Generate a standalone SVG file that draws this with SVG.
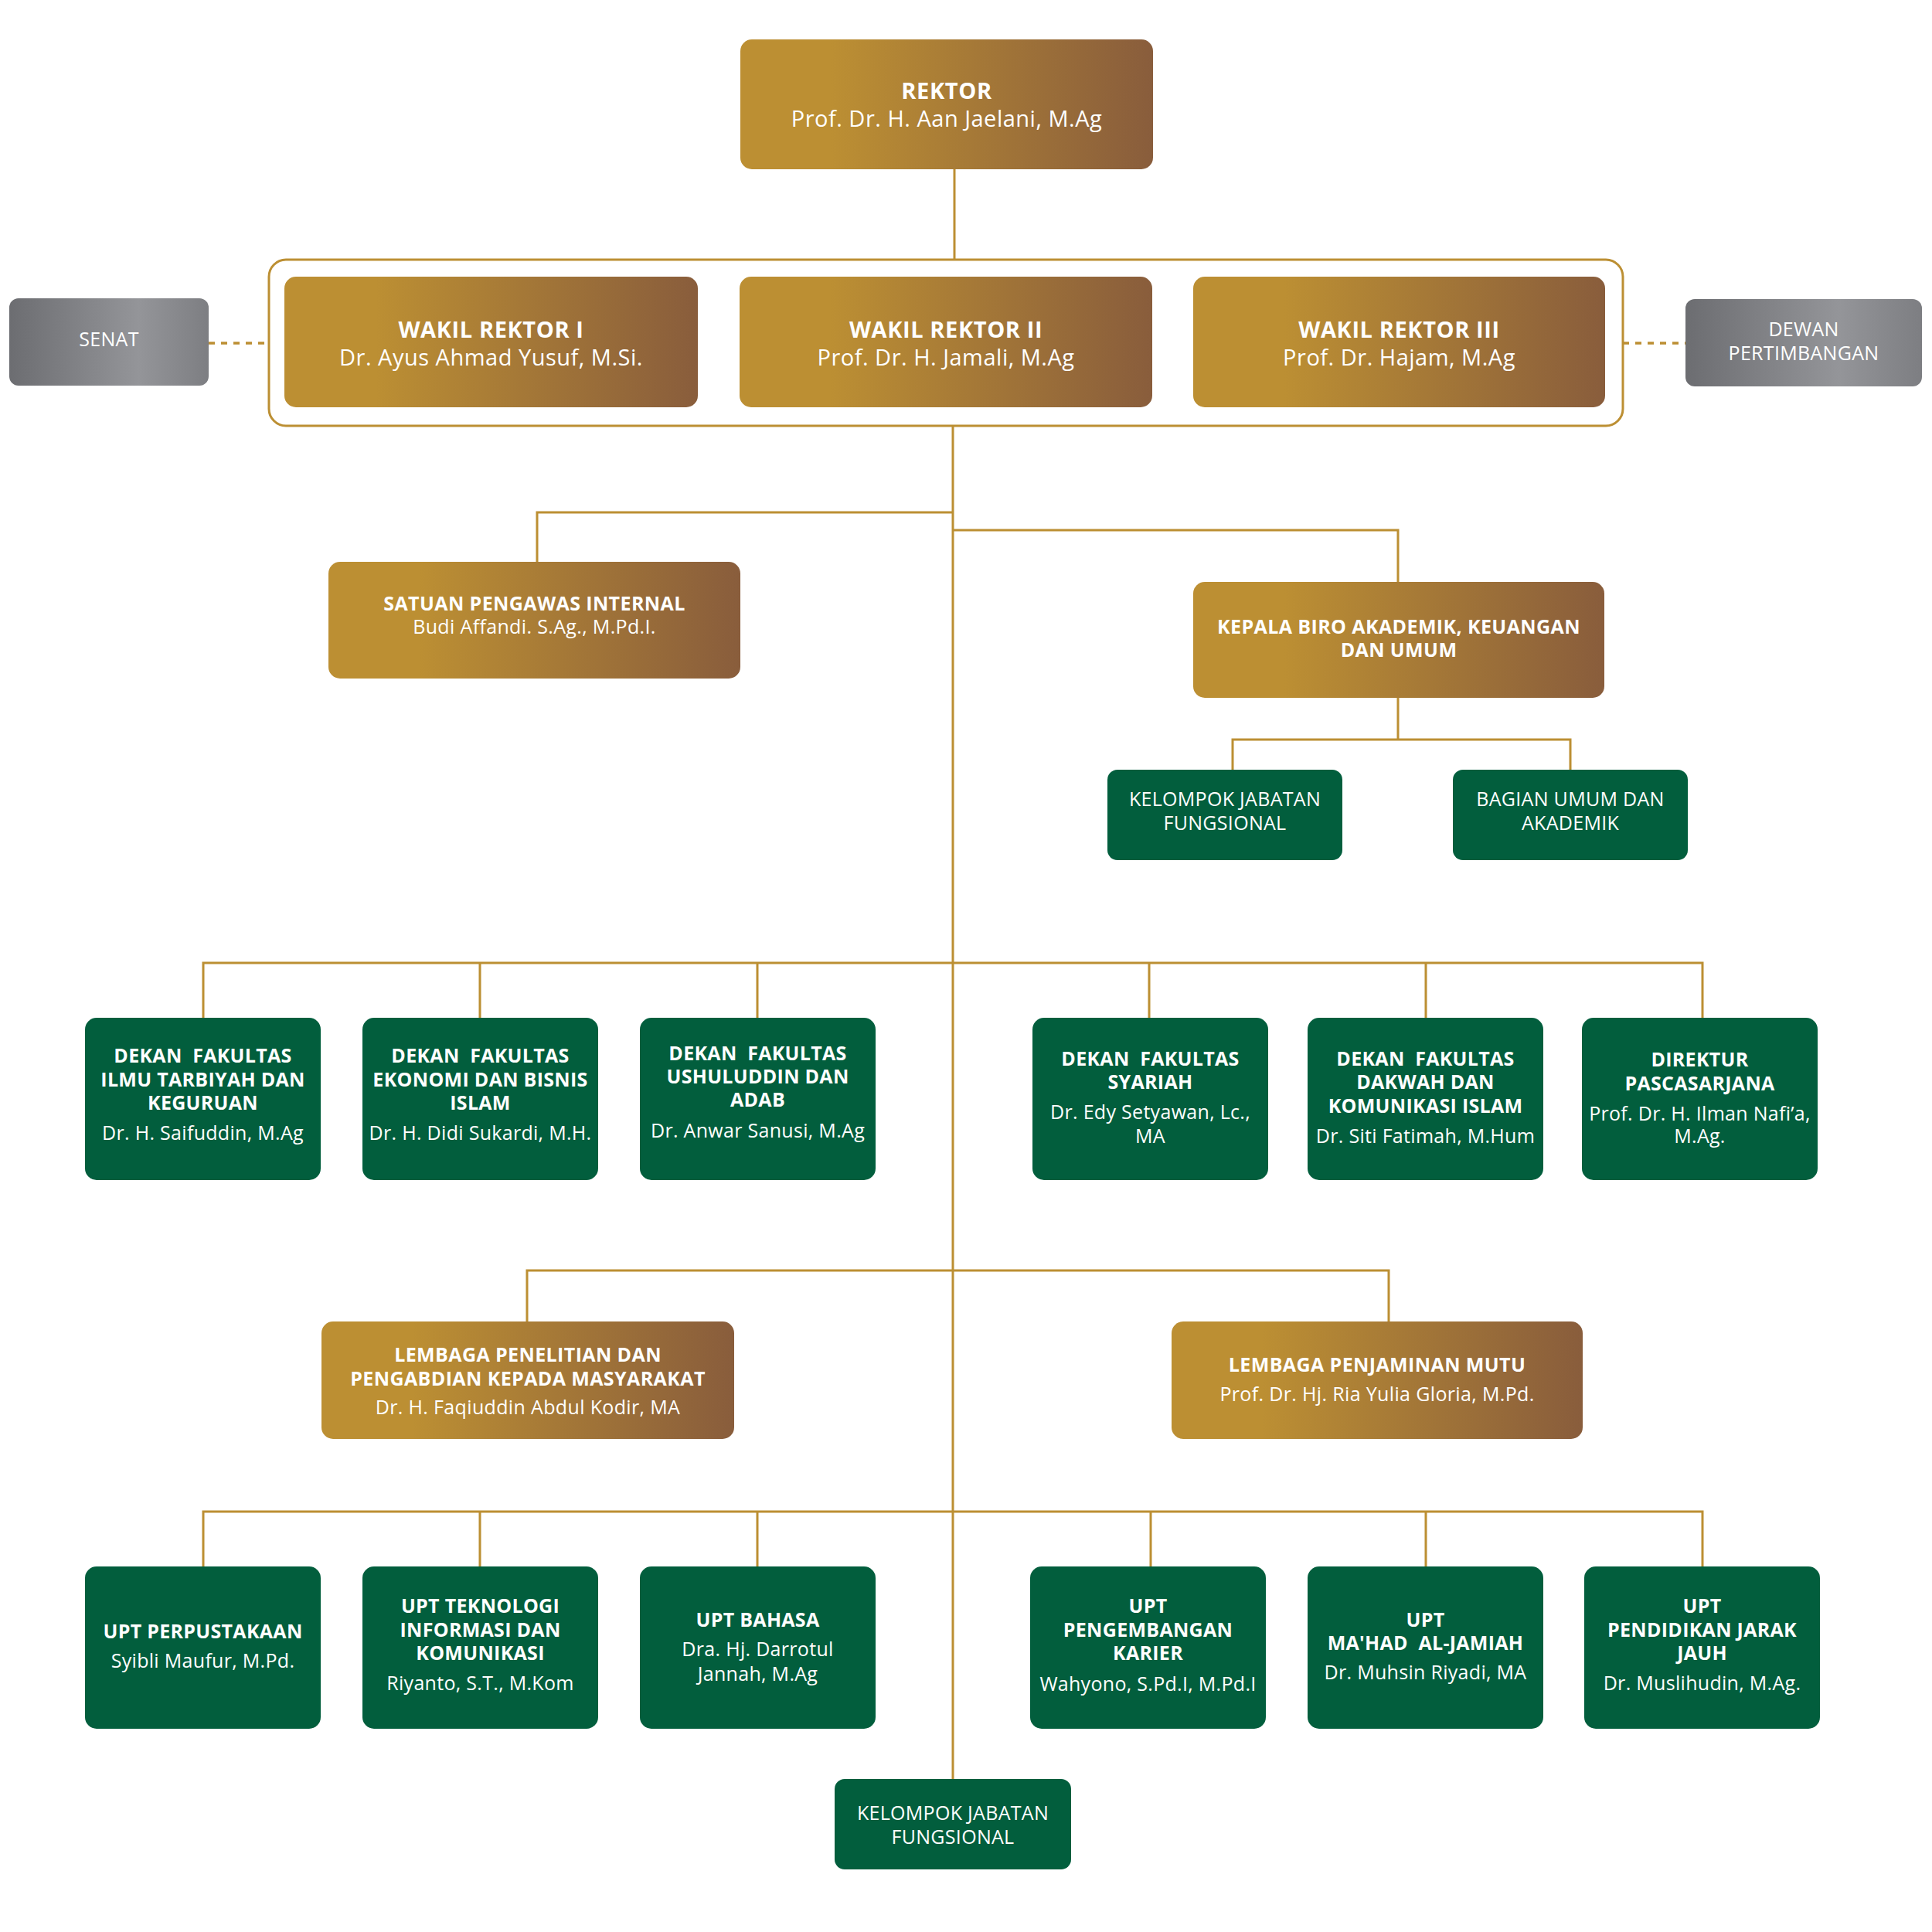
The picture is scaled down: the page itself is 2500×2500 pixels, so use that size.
<svg xmlns="http://www.w3.org/2000/svg" width="2500" height="2500" viewBox="0 0 2500 2500">
<defs>
<linearGradient id="gold" x1="0" y1="0" x2="1" y2="0">
<stop offset="0" stop-color="#BC8F33"/>
<stop offset="0.22" stop-color="#BC8F33"/>
<stop offset="1" stop-color="#895D3C"/>
</linearGradient>
<linearGradient id="gray" x1="0" y1="0" x2="1" y2="0">
<stop offset="0" stop-color="#6C6D71"/>
<stop offset="0.65" stop-color="#949599"/>
<stop offset="1" stop-color="#7D7E82"/>
</linearGradient>
<style>
.gold{fill:url(#gold)}
.gray{fill:url(#gray)}
.green{fill:#025E3D}
.frame{fill:none;stroke:#BC8F33;stroke-width:3}
.con{fill:none;stroke:#BC8F33;stroke-width:3}
.dot{fill:none;stroke:#BC8F33;stroke-width:3.5;stroke-dasharray:8 8}
text{font-family:"Open Sans","Noto Sans","Liberation Sans",sans-serif;fill:#FFFFFF;text-anchor:middle}
.b29{font-size:29px;font-weight:700;letter-spacing:0.6px}
.r29{font-size:29px;font-weight:400;letter-spacing:0.5px}
.b24{font-size:25px;font-weight:700;letter-spacing:0.4px}
.r24{font-size:25px;font-weight:400;letter-spacing:0.35px}
.b25{font-size:25px;font-weight:700;letter-spacing:0.3px}
.r25{font-size:25px;font-weight:400;letter-spacing:0.3px}
</style>
</defs>
<rect width="2500" height="2500" fill="#FFFFFF"/>

<g id="connectors">
<path class="con" d="M1235 219V336"/>
<path class="con" d="M1233 551V2302"/>
<path class="con" d="M1233 663H695V727"/>
<path class="con" d="M1233 686H1809V753"/>
<path class="con" d="M1809 903V957"/>
<path class="con" d="M1595 996V957H2032V996"/>
<path class="con" d="M263 1317V1246H2203V1317"/>
<path class="con" d="M621 1246V1317M980 1246V1317M1487 1246V1317M1845 1246V1317"/>
<path class="con" d="M682 1710V1644H1797V1710"/>
<path class="con" d="M263 2027V1956H2203V2027"/>
<path class="con" d="M621 1956V2027M980 1956V2027M1489 1956V2027M1845 1956V2027"/>
<path class="dot" d="M270 444H348"/>
<path class="dot" d="M2100 444H2181"/>
</g>

<g id="frame-wakil">
<rect class="frame" x="348" y="336" width="1752" height="215" rx="22"/>
</g>

<g id="rektor">
<rect class="gold" x="958" y="51" width="534" height="168" rx="15"/>
<text class="b29" x="1225" y="128">REKTOR</text>
<text class="r29" x="1225" y="164">Prof. Dr. H. Aan Jaelani, M.Ag</text>
</g>

<g id="senat">
<rect class="gray" x="12" y="386" width="258" height="113" rx="12"/>
<text class="r25" x="141" y="448">SENAT</text>
</g>

<g id="dewan-pertimbangan">
<rect class="gray" x="2181" y="387" width="306" height="113" rx="12"/>
<text class="r25" x="2334" y="435">DEWAN</text>
<text class="r25" x="2334" y="466">PERTIMBANGAN</text>
</g>

<g id="wakil-rektor-1">
<rect class="gold" x="368" y="358" width="535" height="169" rx="15"/>
<text class="b29" x="635.5" y="437">WAKIL REKTOR I</text>
<text class="r29" x="635.5" y="473">Dr. Ayus Ahmad Yusuf, M.Si.</text>
</g>

<g id="wakil-rektor-2">
<rect class="gold" x="957" y="358" width="534" height="169" rx="15"/>
<text class="b29" x="1224" y="437">WAKIL REKTOR II</text>
<text class="r29" x="1224" y="473">Prof. Dr. H. Jamali, M.Ag</text>
</g>

<g id="wakil-rektor-3">
<rect class="gold" x="1544" y="358" width="533" height="169" rx="15"/>
<text class="b29" x="1810.5" y="437">WAKIL REKTOR III</text>
<text class="r29" x="1810.5" y="473">Prof. Dr. Hajam, M.Ag</text>
</g>

<g id="spi">
<rect class="gold" x="425" y="727" width="533" height="151" rx="15"/>
<text class="b24" x="691.5" y="790">SATUAN PENGAWAS INTERNAL</text>
<text class="r24" x="691.5" y="820">Budi Affandi. S.Ag., M.Pd.I.</text>
</g>

<g id="kepala-biro">
<rect class="gold" x="1544" y="753" width="532" height="150" rx="15"/>
<text class="b24" x="1810" y="820">KEPALA BIRO AKADEMIK, KEUANGAN</text>
<text class="b24" x="1810" y="850">DAN UMUM</text>
</g>

<g id="kelompok-jabatan-fungsional-1">
<rect class="green" x="1433" y="996" width="304" height="117" rx="13"/>
<text class="r25" x="1585" y="1043">KELOMPOK JABATAN</text>
<text class="r25" x="1585" y="1074">FUNGSIONAL</text>
</g>

<g id="bagian-umum">
<rect class="green" x="1880" y="996" width="304" height="117" rx="13"/>
<text class="r25" x="2032" y="1043">BAGIAN UMUM DAN</text>
<text class="r25" x="2032" y="1074">AKADEMIK</text>
</g>

<g id="dekan-ftik">
<rect class="green" x="110" y="1317" width="305" height="210" rx="15"/>
<text class="b25" x="262.5" y="1375" xml:space="preserve">DEKAN  FAKULTAS</text>
<text class="b25" x="262.5" y="1406">ILMU TARBIYAH DAN</text>
<text class="b25" x="262.5" y="1436">KEGURUAN</text>
<text class="r25" x="262.5" y="1475">Dr. H. Saifuddin, M.Ag</text>
</g>

<g id="dekan-febi">
<rect class="green" x="469" y="1317" width="305" height="210" rx="15"/>
<text class="b25" x="621.5" y="1375" xml:space="preserve">DEKAN  FAKULTAS</text>
<text class="b25" x="621.5" y="1406">EKONOMI DAN BISNIS</text>
<text class="b25" x="621.5" y="1436">ISLAM</text>
<text class="r25" x="621.5" y="1475">Dr. H. Didi Sukardi, M.H.</text>
</g>

<g id="dekan-fuad">
<rect class="green" x="828" y="1317" width="305" height="210" rx="15"/>
<text class="b25" x="980.5" y="1372" xml:space="preserve">DEKAN  FAKULTAS</text>
<text class="b25" x="980.5" y="1402">USHULUDDIN DAN</text>
<text class="b25" x="980.5" y="1432">ADAB</text>
<text class="r25" x="980.5" y="1472">Dr. Anwar Sanusi, M.Ag</text>
</g>

<g id="dekan-syariah">
<rect class="green" x="1336" y="1317" width="305" height="210" rx="15"/>
<text class="b25" x="1488.5" y="1379" xml:space="preserve">DEKAN  FAKULTAS</text>
<text class="b25" x="1488.5" y="1409">SYARIAH</text>
<text class="r25" x="1488.5" y="1448">Dr. Edy Setyawan, Lc.,</text>
<text class="r25" x="1488.5" y="1479">MA</text>
</g>

<g id="dekan-fdki">
<rect class="green" x="1692" y="1317" width="305" height="210" rx="15"/>
<text class="b25" x="1844.5" y="1379" xml:space="preserve">DEKAN  FAKULTAS</text>
<text class="b25" x="1844.5" y="1409">DAKWAH DAN</text>
<text class="b25" x="1844.5" y="1440">KOMUNIKASI ISLAM</text>
<text class="r25" x="1844.5" y="1479">Dr. Siti Fatimah, M.Hum</text>
</g>

<g id="direktur-pascasarjana">
<rect class="green" x="2047" y="1317" width="305" height="210" rx="15"/>
<text class="b25" x="2199.5" y="1380">DIREKTUR</text>
<text class="b25" x="2199.5" y="1411">PASCASARJANA</text>
<text class="r25" x="2199.5" y="1450">Prof. Dr. H. Ilman Nafi’a,</text>
<text class="r25" x="2199.5" y="1479">M.Ag.</text>
</g>

<g id="lp2m">
<rect class="gold" x="416" y="1710" width="534" height="152" rx="15"/>
<text class="b24" x="683" y="1762">LEMBAGA PENELITIAN DAN</text>
<text class="b24" x="683" y="1793">PENGABDIAN KEPADA MASYARAKAT</text>
<text class="r24" x="683" y="1830">Dr. H. Faqiuddin Abdul Kodir, MA</text>
</g>

<g id="lpm">
<rect class="gold" x="1516" y="1710" width="532" height="152" rx="15"/>
<text class="b24" x="1782" y="1775">LEMBAGA PENJAMINAN MUTU</text>
<text class="r24" x="1782" y="1813">Prof. Dr. Hj. Ria Yulia Gloria, M.Pd.</text>
</g>

<g id="upt-perpustakaan">
<rect class="green" x="110" y="2027" width="305" height="210" rx="15"/>
<text class="b25" x="262.5" y="2120">UPT PERPUSTAKAAN</text>
<text class="r25" x="262.5" y="2158">Syibli Maufur, M.Pd.</text>
</g>

<g id="upt-tik">
<rect class="green" x="469" y="2027" width="305" height="210" rx="15"/>
<text class="b25" x="621.5" y="2087">UPT TEKNOLOGI</text>
<text class="b25" x="621.5" y="2118">INFORMASI DAN</text>
<text class="b25" x="621.5" y="2148">KOMUNIKASI</text>
<text class="r25" x="621.5" y="2187">Riyanto, S.T., M.Kom</text>
</g>

<g id="upt-bahasa">
<rect class="green" x="828" y="2027" width="305" height="210" rx="15"/>
<text class="b25" x="980.5" y="2105">UPT BAHASA</text>
<text class="r25" x="980.5" y="2143">Dra. Hj. Darrotul</text>
<text class="r25" x="980.5" y="2175">Jannah, M.Ag</text>
</g>

<g id="upt-karier">
<rect class="green" x="1333" y="2027" width="305" height="210" rx="15"/>
<text class="b25" x="1485.5" y="2087">UPT</text>
<text class="b25" x="1485.5" y="2118">PENGEMBANGAN</text>
<text class="b25" x="1485.5" y="2148">KARIER</text>
<text class="r25" x="1485.5" y="2188">Wahyono, S.Pd.I, M.Pd.I</text>
</g>

<g id="upt-mahad">
<rect class="green" x="1692" y="2027" width="305" height="210" rx="15"/>
<text class="b25" x="1844.5" y="2105">UPT</text>
<text class="b25" x="1844.5" y="2135" xml:space="preserve">MA'HAD  AL-JAMIAH</text>
<text class="r25" x="1844.5" y="2173">Dr. Muhsin Riyadi, MA</text>
</g>

<g id="upt-pjj">
<rect class="green" x="2050" y="2027" width="305" height="210" rx="15"/>
<text class="b25" x="2202.5" y="2087">UPT</text>
<text class="b25" x="2202.5" y="2118">PENDIDIKAN JARAK</text>
<text class="b25" x="2202.5" y="2148">JAUH</text>
<text class="r25" x="2202.5" y="2187">Dr. Muslihudin, M.Ag.</text>
</g>

<g id="kelompok-jabatan-fungsional-2">
<rect class="green" x="1080" y="2302" width="306" height="117" rx="13"/>
<text class="r25" x="1233" y="2355">KELOMPOK JABATAN</text>
<text class="r25" x="1233" y="2386">FUNGSIONAL</text>
</g>
</svg>
